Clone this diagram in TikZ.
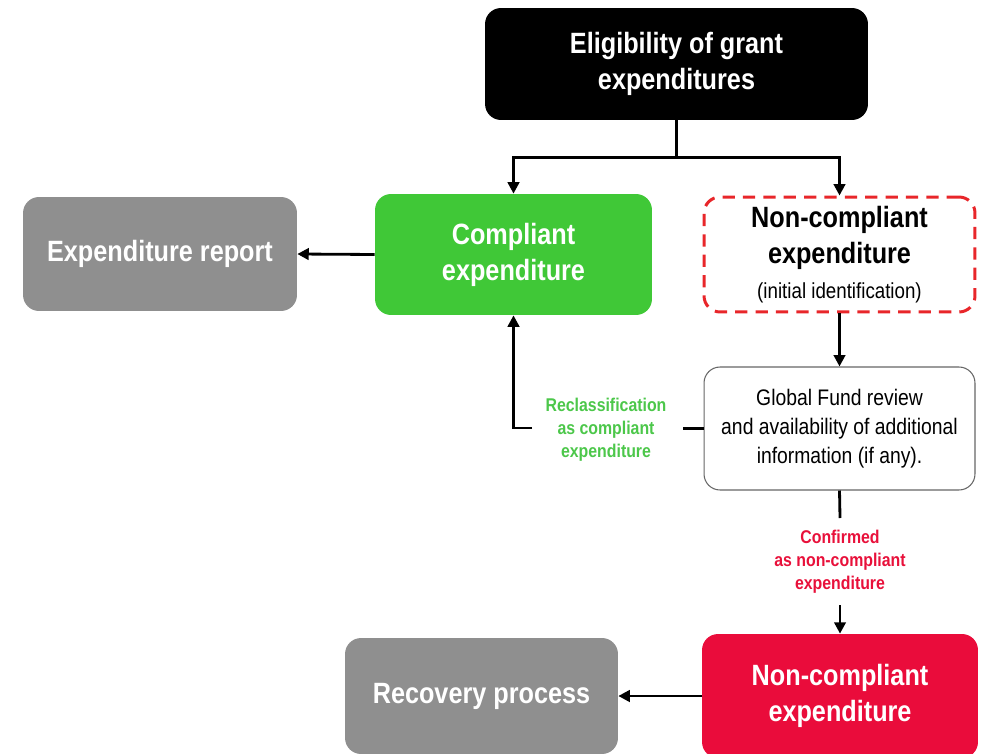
\documentclass[tikz,border=0pt]{standalone}
\usepackage{fontspec}
\setmainfont{Liberation Sans}
\newfontfamily\nb{Liberation Sans}[FakeStretch=0.86]
\usetikzlibrary{arrows.meta}
\definecolor{cgreen}{HTML}{40C837}
\definecolor{cgrey}{HTML}{8F8F8F}
\definecolor{cred}{HTML}{EA0C3B}
\definecolor{cdash}{HTML}{E8262A}
\definecolor{lgreen}{HTML}{4CC74A}
\definecolor{lred}{HTML}{E8103A}
\tikzset{
  box/.style={rounded corners=0.32cm, align=center, inner sep=2pt},
  titletext/.style={font=\nb\bfseries\fontsize{16.7}{20.5}\selectfont, text=white},
  arr/.style={line width=1.6pt, -{Triangle[length=6.5pt,width=6.5pt]}},
  ln/.style={line width=1.6pt},
  lbl/.style={align=center, font=\nb\bfseries\fontsize{10.5}{13}\selectfont},
}
\begin{document}
\begin{tikzpicture}[x=0.02cm,y=-0.02cm]
\useasboundingbox (0,0) rectangle (989,753);
\node[box, fill=black, titletext, minimum width=7.66cm, minimum height=2.24cm] (top) at (676.5,64) {Eligibility of grant\\expenditures};
\node[box, fill=cgreen, titletext, minimum width=5.54cm, minimum height=2.42cm] (comp) at (513.5,254.5) {Compliant\\expenditure};
\node[box, draw=cdash, dash pattern=on 7pt off 4.6pt, line width=1.7pt, minimum width=5.42cm, minimum height=2.3cm, font=\nb\bfseries\fontsize{16.7}{20.5}\selectfont] (ncinit) at (839.5,254.5) {Non-compliant\\expenditure\\[-1pt]\normalfont\nb\fontsize{12.4}{14}\selectfont (initial identification)};
\node[box, fill=cgrey, titletext, minimum width=5.48cm, minimum height=2.28cm] (rep) at (160,254) {Expenditure report};
\node[box, draw=black!60, line width=0.6pt, fill=white, minimum width=5.42cm, minimum height=2.46cm, font=\nb\fontsize{12.8}{16.5}\selectfont] (rev) at (839.5,428.5) {Global Fund review\\and availability of additional\\information (if any).};
\node[box, fill=cred, titletext, minimum width=5.52cm, minimum height=2.48cm] (ncred) at (840,696) {Non-compliant\\expenditure};
\node[box, fill=cgrey, titletext, minimum width=5.46cm, minimum height=2.32cm] (recov) at (481.5,696) {Recovery process};

\draw[ln] (top.south) -- ++(0,37) coordinate (split);
\draw[arr] (split) -| (comp.north);
\draw[arr] (split) -| (ncinit.north);
\draw[arr] (comp.west) -- (rep.east);
\draw[arr] (ncinit.south) -- (rev.north);

\node[lbl, text=lgreen] (reclass) at (606,430) {Reclassification\\as compliant\\expenditure};
\coordinate (rcend) at (683,428.5);
\draw[ln] (rev.west) -- (rcend);
\coordinate (rcstart) at (532,428);
\draw[arr] (rcstart) -| (comp.south);

\node[lbl, text=lred] (confirm) at (840,562) {Confirmed\\as non-compliant\\expenditure};
\coordinate (cfend) at (840,518);
\draw[ln] (rev.south) -- (cfend);
\coordinate (cfstart) at (840,605);
\draw[arr] (cfstart) -- (ncred.north);
\draw[arr] (ncred.west) -- (recov.east);
\end{tikzpicture}
\end{document}
